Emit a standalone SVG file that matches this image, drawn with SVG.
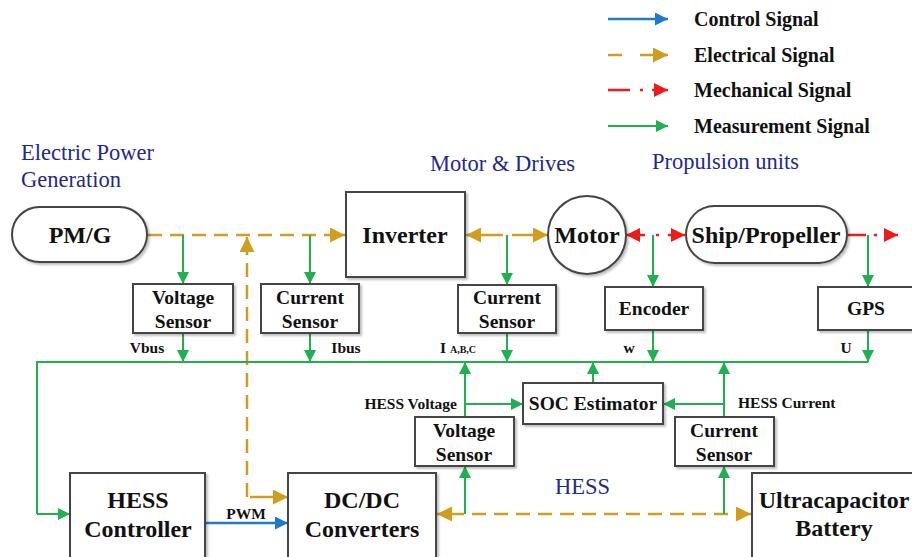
<svg xmlns="http://www.w3.org/2000/svg" width="912" height="557" viewBox="0 0 912 557">
<style>
.box{fill:#fff;stroke:#444;stroke-width:2;filter:url(#sh)}
.t{font-family:"Liberation Serif","DejaVu Serif",serif;font-weight:bold;fill:#111;text-anchor:middle}
.big{font-size:24px}
.mid{font-size:19.5px}
.sm{font-size:15.5px}
.sec{font-family:"Liberation Serif","DejaVu Serif",serif;font-size:22.5px;fill:#1f2a8a}
.leg{font-family:"Liberation Serif","DejaVu Serif",serif;font-weight:bold;font-size:20px;fill:#111}
.g{stroke:#1fb04f;stroke-width:2;fill:none}
.e{stroke:#d19d1c;stroke-width:2.5;fill:none;stroke-dasharray:14 8}
.es{stroke:#d19d1c;stroke-width:2.5;fill:none}
.m{stroke:#ee1b1b;stroke-width:2.5;fill:none}
.c{stroke:#1e7bcc;stroke-width:2.5;fill:none}
</style>
<defs>
<filter id="sh" x="-10%" y="-10%" width="130%" height="130%"><feDropShadow dx="2" dy="2" stdDeviation="1.2" flood-color="#000" flood-opacity="0.25"/></filter>
<marker id="ag" viewBox="0 0 10 10" refX="10" refY="5" markerWidth="12" markerHeight="12" markerUnits="userSpaceOnUse" orient="auto-start-reverse"><path d="M0,0 L10,5 L0,10 z" fill="#1fb04f"/></marker>
<marker id="ae" viewBox="0 0 10 10" refX="10" refY="5" markerWidth="15" markerHeight="15" markerUnits="userSpaceOnUse" orient="auto-start-reverse"><path d="M0,0 L10,5 L0,10 z" fill="#d19d1c"/></marker>
<marker id="am" viewBox="0 0 10 10" refX="10" refY="5" markerWidth="14" markerHeight="14" markerUnits="userSpaceOnUse" orient="auto-start-reverse"><path d="M0,0 L10,5 L0,10 z" fill="#ee1b1b"/></marker>
<marker id="ac" viewBox="0 0 10 10" refX="10" refY="5" markerWidth="13" markerHeight="13" markerUnits="userSpaceOnUse" orient="auto-start-reverse"><path d="M0,0 L10,5 L0,10 z" fill="#1e7bcc"/></marker>
</defs>
<rect width="912" height="557" fill="#fff"/>

<g id="legend">
<path class="c" d="M608,19 H668" marker-end="url(#ac)"/>
<path class="e" d="M608,55 H630 M640,55 H655" /><path class="es" d="M655,55 H668" marker-end="url(#ae)"/>
<path class="m" d="M608,90 H630 M640,90 H643 M652,90 H668" marker-end="url(#am)"/>
<path class="g" d="M608,126 H668" marker-end="url(#ag)"/>
<text class="leg" x="694" y="26">Control Signal</text>
<text class="leg" x="694" y="62">Electrical Signal</text>
<text class="leg" x="694" y="97">Mechanical Signal</text>
<text class="leg" x="694" y="133">Measurement Signal</text>
</g>

<g id="section-labels">
<text class="sec" x="21" y="160">Electric Power</text>
<text class="sec" x="21" y="187">Generation</text>
<text class="sec" x="430" y="171">Motor &amp; Drives</text>
<text class="sec" x="652" y="169">Propulsion units</text>
<text class="sec" x="555" y="494">HESS</text>
</g>

<g id="connectors">
<!-- electrical -->
<path class="e" d="M148,235 H335"/><path class="es" d="M332,235 H345" marker-end="url(#ae)"/>
<path class="e" d="M247,497 V250"/><path class="es" d="M247,252 V237" marker-end="url(#ae)"/>
<path class="es" d="M250,497 H288" marker-end="url(#ae)"/>
<path class="es" d="M503,235 H466" marker-end="url(#ae)"/>
<path class="es" d="M512,235 H548" marker-end="url(#ae)"/>
<path class="e" d="M450,514 H740"/>
<path class="es" d="M452,514 H437" marker-end="url(#ae)"/>
<path class="es" d="M736,514 H751" marker-end="url(#ae)"/>
<!-- mechanical -->
<path class="m" d="M645,235 H626" marker-end="url(#am)"/>
<path class="m" d="M656,235 H659"/>
<path class="m" d="M668,235 H685" marker-end="url(#am)"/>
<path class="m" d="M848,235 H866 M874,235 H877"/>
<path class="m" d="M884,235 H898" marker-end="url(#am)"/>
<!-- control -->
<path class="c" d="M205,523 H288" marker-end="url(#ac)"/>
<!-- measurement -->
<path class="g" d="M183,235 V284" marker-end="url(#ag)"/>
<path class="g" d="M310,235 V284" marker-end="url(#ag)"/>
<path class="g" d="M507,235 V285" marker-end="url(#ag)"/>
<path class="g" d="M653,235 V287" marker-end="url(#ag)"/>
<path class="g" d="M868,235 V287" marker-end="url(#ag)"/>
<path class="g" d="M183,333 V362" marker-end="url(#ag)"/>
<path class="g" d="M310,333 V362" marker-end="url(#ag)"/>
<path class="g" d="M507,333 V362" marker-end="url(#ag)"/>
<path class="g" d="M653,330 V362" marker-end="url(#ag)"/>
<path class="g" d="M868,330 V362" marker-end="url(#ag)"/>
<path class="g" d="M868,362 H37 V514" />
<path class="g" d="M37,514 H70" marker-end="url(#ag)"/>
<path class="g" d="M465,417 V362" marker-end="url(#ag)"/>
<path class="g" d="M465,404 H523" marker-end="url(#ag)"/>
<path class="g" d="M593,383 V362" marker-end="url(#ag)"/>
<path class="g" d="M724,417 V362" marker-end="url(#ag)"/>
<path class="g" d="M724,404 H663" marker-end="url(#ag)"/>
<path class="g" d="M465,514 V466" marker-end="url(#ag)"/>
<path class="g" d="M724,514 V466" marker-end="url(#ag)"/>
<!-- labels -->
<text class="t sm" x="147" y="353">Vbus</text>
<text class="t sm" x="346" y="353">Ibus</text>
<text class="t sm" x="440" y="353" style="text-anchor:start">I <tspan font-size="10">A,B,C</tspan></text>
<text class="t sm" x="629" y="353">w</text>
<text class="t sm" x="846" y="353">U</text>
<text class="t sm" x="457" y="409" style="text-anchor:end">HESS Voltage</text>
<text class="t sm" x="738" y="408" style="text-anchor:start">HESS Current</text>
<text class="t sm" x="246" y="519">PWM</text>
</g>

<g id="pmg"><rect class="box" x="12" y="207" width="135" height="55" rx="27.5"/><text class="t big" x="80" y="243">PM/G</text></g>
<g id="inverter"><rect class="box" x="346" y="192" width="119" height="85"/><text class="t big" x="405" y="243">Inverter</text></g>
<g id="motor"><circle class="box" cx="587" cy="235" r="39"/><text class="t big" x="587" y="243">Motor</text></g>
<g id="ship"><rect class="box" x="686" y="206" width="161" height="57" rx="28.5"/><text class="t big" x="766" y="243">Ship/Propeller</text></g>
<g id="vs1"><rect class="box" x="133" y="284" width="100" height="49"/><text class="t mid" x="183" y="304">Voltage</text><text class="t mid" x="183" y="328">Sensor</text></g>
<g id="cs1"><rect class="box" x="261" y="284" width="98" height="49"/><text class="t mid" x="310" y="304">Current</text><text class="t mid" x="310" y="328">Sensor</text></g>
<g id="cs2"><rect class="box" x="458" y="285" width="98" height="48"/><text class="t mid" x="507" y="304">Current</text><text class="t mid" x="507" y="328">Sensor</text></g>
<g id="encoder"><rect class="box" x="605" y="287" width="98" height="43"/><text class="t mid" x="654" y="315">Encoder</text></g>
<g id="gps"><rect class="box" x="818" y="287" width="100" height="43"/><text class="t mid" x="866" y="315">GPS</text></g>
<g id="soc"><rect class="box" x="523" y="383" width="140" height="41"/><text class="t mid" x="593" y="410">SOC Estimator</text></g>
<g id="vs2"><rect class="box" x="415" y="417" width="99" height="49"/><text class="t mid" x="464" y="437">Voltage</text><text class="t mid" x="464" y="461">Sensor</text></g>
<g id="cs3"><rect class="box" x="675" y="417" width="99" height="49"/><text class="t mid" x="724" y="437">Current</text><text class="t mid" x="724" y="461">Sensor</text></g>
<g id="hessctrl"><rect class="box" x="70" y="473" width="135" height="90"/><text class="t big" x="138" y="508">HESS</text><text class="t big" x="138" y="537">Controller</text></g>
<g id="dcdc"><rect class="box" x="288" y="473" width="148" height="90"/><text class="t big" x="362" y="508">DC/DC</text><text class="t big" x="362" y="537">Converters</text></g>
<g id="ucap"><rect class="box" x="752" y="473" width="170" height="90"/><text class="t big" x="834" y="508">Ultracapacitor</text><text class="t big" x="834" y="536">Battery</text></g>
</svg>
